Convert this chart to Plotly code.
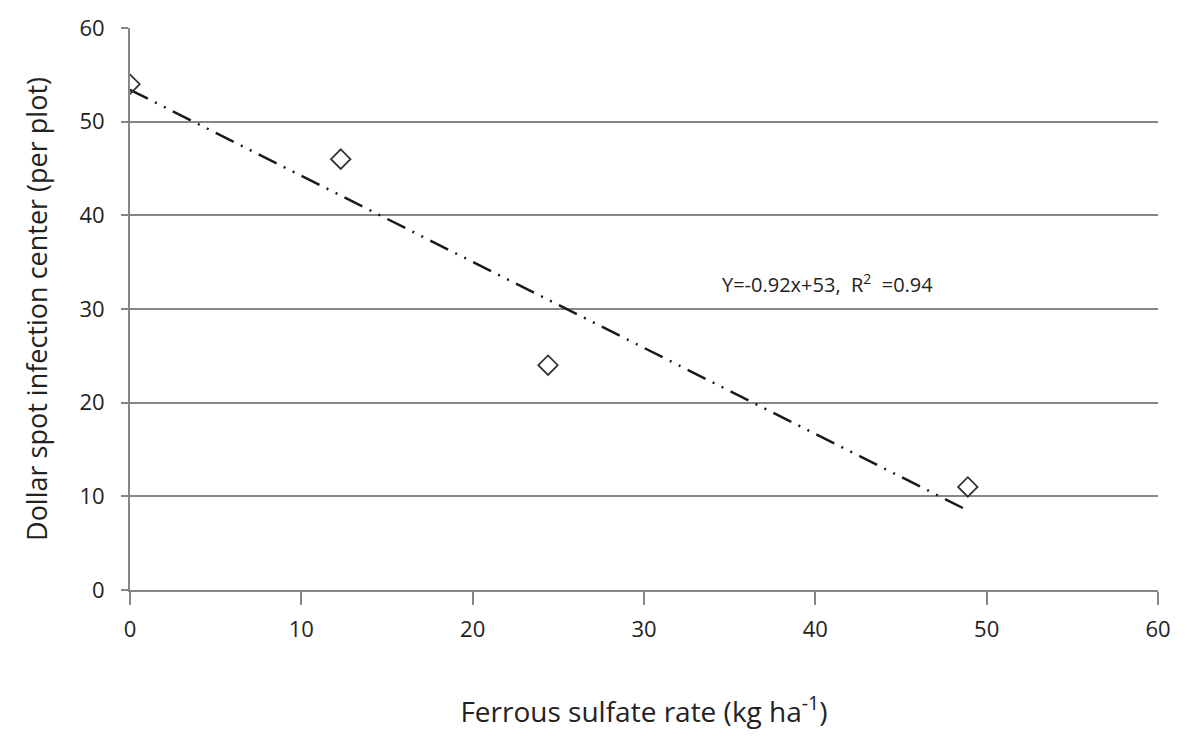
import numpy as np
import plotly.graph_objects as go

rate = [0, 12.3, 24.4, 48.9]
centers = [54, 46, 24, 11]
x_ticks = [0, 10, 20, 30, 40, 50, 60]
y_ticks = [0, 10, 20, 30, 40, 50, 60]
eq_label = "Y=-0.92x+53,  R<sup>2</sup>  =0.94"

slope, intercept = np.polyfit(rate, centers, 1)
fit_x = [min(rate), max(rate)]
fit_y = [intercept + slope * v for v in fit_x]

font = "Open Sans, Liberation Sans, sans-serif"
fig = go.Figure()
fig.add_trace(go.Scatter(x=fit_x, y=fit_y, mode="lines",
                         line=dict(color="#1a1a1a", width=2.5, dash="20px,8px,2px,8px,2px,8px"),
                         showlegend=False, hoverinfo="skip"))
fig.add_trace(go.Scatter(x=rate, y=centers, mode="markers",
                         marker=dict(symbol="diamond-open", size=15, color="#333333",
                                     line=dict(width=1.8, color="#333333")),
                         showlegend=False))
fig.add_annotation(x=40.7, y=32.7, text=eq_label, showarrow=False,
                   font=dict(family=font, size=20, color="#222222"))
fig.update_layout(
    width=1187, height=746,
    margin=dict(l=130, r=29, t=23, b=156),
    paper_bgcolor="white", plot_bgcolor="white",
    font=dict(family=font, color="#222222"),
    xaxis=dict(range=[0, 60], tickvals=x_ticks, showgrid=False, zeroline=False,
               showline=True, linecolor="#868686", linewidth=2,
               ticks="outside", ticklen=13, tickcolor="#868686", tickwidth=2,
               ticklabelstandoff=6,
               tickfont=dict(size=22), title=dict(text="Ferrous sulfate rate (kg ha<sup>-1</sup>)",
                                                  font=dict(size=28), standoff=60)),
    yaxis=dict(range=[0, 60], tickvals=y_ticks, showgrid=True, gridcolor="#868686", gridwidth=2,
               zeroline=False, showline=True, linecolor="#868686", linewidth=2,
               ticks="outside", ticklen=7, tickcolor="#868686", tickwidth=2,
               ticklabelstandoff=12,
               tickfont=dict(size=22), title=dict(text="Dollar spot infection center (per plot)",
                                                  font=dict(size=27), standoff=24)),
)
fig.write_html("out.html")
